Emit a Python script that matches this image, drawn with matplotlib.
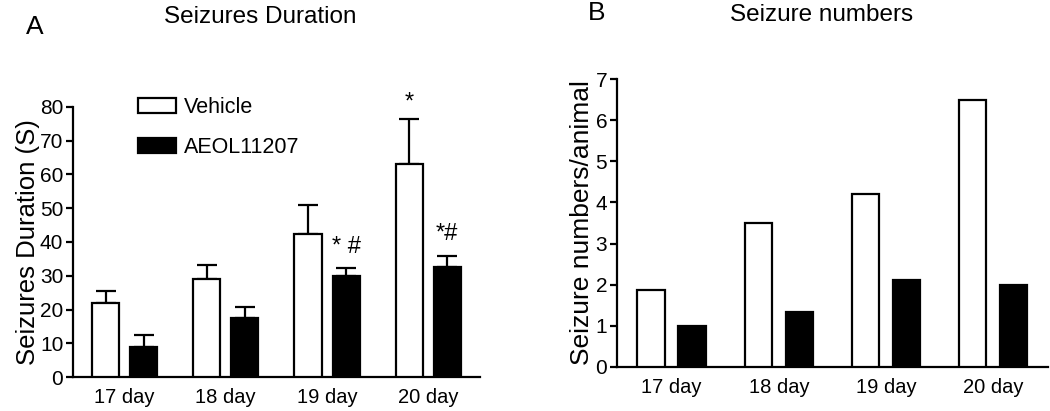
import numpy as np
import matplotlib
matplotlib.use("Agg")
import matplotlib.pyplot as plt
from matplotlib.patches import Patch

plt.rcParams['font.family'] = ['Liberation Sans', 'DejaVu Sans']

# DATA
days = ['17 day', '18 day', '19 day', '20 day']
dur_vehicle = [22.0, 29.0, 42.3, 63.2]
dur_vehicle_err = [3.5, 4.3, 8.5, 13.3]
dur_aeol = [9.1, 17.4, 30.0, 32.5]
dur_aeol_err = [3.4, 3.3, 2.2, 3.5]
num_vehicle = [1.88, 3.5, 4.2, 6.5]
num_aeol = [1.0, 1.33, 2.11, 2.0]
marks_vehicle = ['', '', '', '*']
marks_aeol = ['', '', '* #', '*#']

lw = 1.6
x = np.arange(len(days))

fig = plt.figure(figsize=(10.5, 4.11), dpi=100)
axA = fig.add_axes([0.0695, 0.082, 0.3875, 0.6584])
axB = fig.add_axes([0.5876, 0.1078, 0.4104, 0.6993])


def style(ax, ymax, step):
    for s in ['top', 'right']:
        ax.spines[s].set_visible(False)
    ax.spines['left'].set_linewidth(lw)
    ax.spines['bottom'].set_linewidth(lw)
    ax.set_ylim(0, ymax)
    ax.set_yticks(np.arange(0, ymax + step / 2, step))
    ax.set_xticks(x)
    ax.set_xticklabels(days)
    ax.set_xlim(-0.51, 3.51)
    ax.tick_params(axis='y', direction='out', length=5, width=lw, labelsize=15, pad=2)
    ax.tick_params(axis='x', length=0, labelsize=14.5, pad=8)


# PANEL A
w = 0.267
off = 0.188
axA.bar(x - off, dur_vehicle, w, color='white', edgecolor='black', linewidth=lw, zorder=3)
axA.bar(x + off, dur_aeol, w, color='black', edgecolor='black', linewidth=lw, zorder=3)
axA.errorbar(x - off, dur_vehicle, yerr=[np.zeros(4), dur_vehicle_err], fmt='none',
             ecolor='black', elinewidth=lw, capsize=7, capthick=lw, zorder=2)
axA.errorbar(x + off, dur_aeol, yerr=[np.zeros(4), dur_aeol_err], fmt='none',
             ecolor='black', elinewidth=lw, capsize=7, capthick=lw, zorder=2)
for i in range(len(days)):
    if marks_vehicle[i]:
        axA.text(x[i] - off, dur_vehicle[i] + dur_vehicle_err[i] + 1.5, marks_vehicle[i],
                 ha='center', va='bottom', fontsize=17)
    if marks_aeol[i]:
        axA.text(x[i] + off, dur_aeol[i] + dur_aeol_err[i] + 3, marks_aeol[i],
                 ha='center', va='bottom', fontsize=17)
style(axA, 80, 10)
axA.set_ylabel('Seizures Duration (S)', fontsize=18.5, labelpad=0)

handles = [Patch(facecolor='white', edgecolor='black', linewidth=lw),
           Patch(facecolor='black', edgecolor='black', linewidth=lw)]
fig.legend(handles, ['Vehicle', 'AEOL11207'], loc='upper left',
           bbox_to_anchor=(0.131, 0.765), frameon=False, fontsize=15.5,
           handlelength=1.8, handleheight=0.7, handletextpad=0.35,
           labelspacing=0.9, borderpad=0, borderaxespad=0)

# PANEL B
wB = 0.256
offB = 0.191
axB.bar(x - offB, num_vehicle, wB, color='white', edgecolor='black', linewidth=lw, zorder=3)
axB.bar(x + offB, num_aeol, wB, color='black', edgecolor='black', linewidth=lw, zorder=3)
style(axB, 7, 1)
axB.set_ylabel('Seizure numbers/animal', fontsize=19, labelpad=1)

# titles
fig.text(0.248, 0.958, 'Seizures Duration', ha='center', va='center', fontsize=17.5)
fig.text(0.033, 0.935, 'A', ha='center', va='center', fontsize=19)
fig.text(0.782, 0.963, 'Seizure numbers', ha='center', va='center', fontsize=17.5)
fig.text(0.568, 0.968, 'B', ha='center', va='center', fontsize=19)

fig.savefig('out.png', dpi=100)
